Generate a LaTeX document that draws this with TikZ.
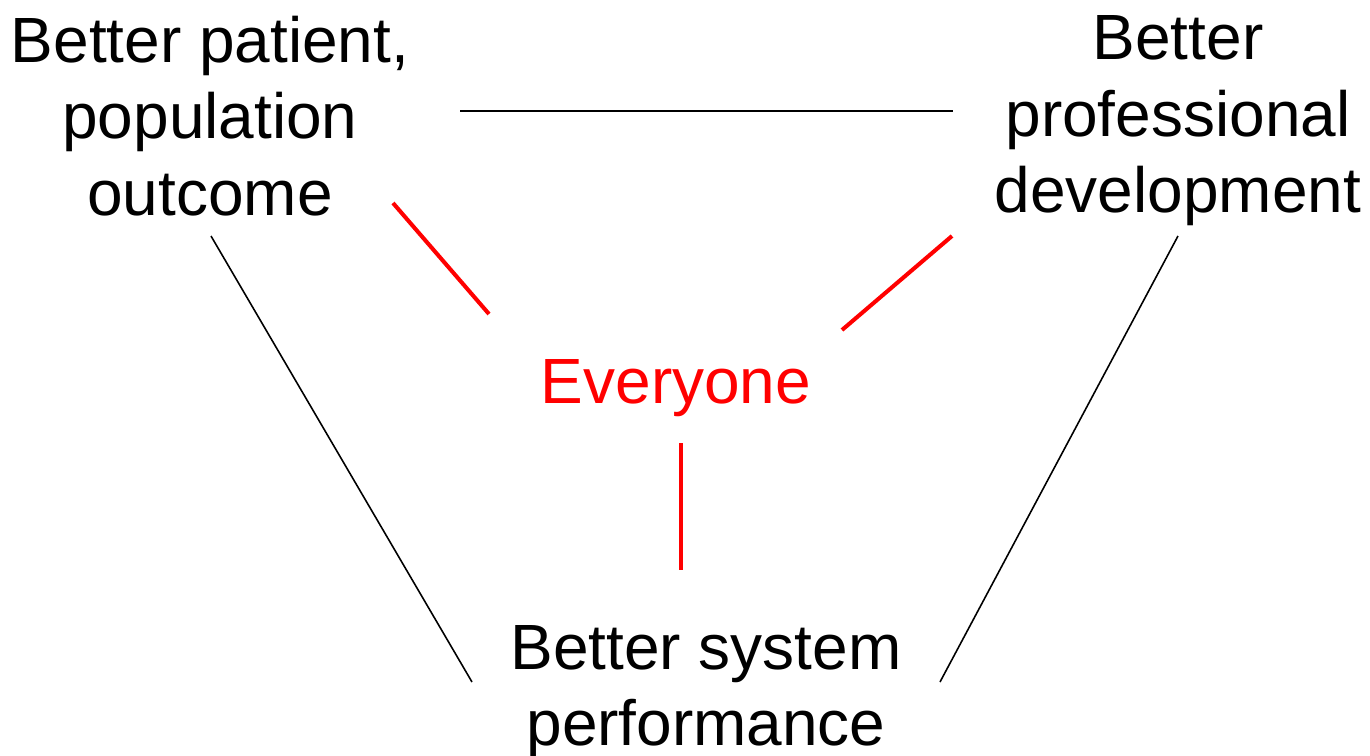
\documentclass[tikz,border=0pt]{standalone}
\usepackage{fontspec}
\setmainfont{Liberation Sans}
\tikzset{
  goal/.style={align=center, inner sep=0pt, font=\fontsize{18.2}{21.8}\selectfont},
  thin link/.style={draw=black, line width=0.45pt},
  red link/.style={draw=red, line width=1.15pt}
}
\begin{document}
\begin{tikzpicture}
    \useasboundingbox (0, 0) rectangle (13.7, 7.55);
    \node[goal] (outcome) at (2.10, 6.39) {Better patient,\\population\\outcome};
    \node[goal] (develop) at (11.78, 6.34) {Better\\professional\\development};
    \node[goal, text=red] (everyone) at (6.76, 3.67) {Everyone};
    \node[goal] (system) at (7.06, 0.63) {Better system\\performance};

    % free ends of the links
    \coordinate (top-l) at (4.60, 6.44);
    \coordinate (top-r) at (9.53, 6.44);
    \coordinate (red-l1) at (3.93, 5.52);
    \coordinate (red-l2) at (4.89, 4.41);
    \coordinate (red-r1) at (9.52, 5.19);
    \coordinate (red-r2) at (8.42, 4.25);
    \coordinate (red-b1) at (6.81, 3.12);
    \coordinate (red-b2) at (6.81, 1.85);
    \coordinate (side-l1) at (2.11, 5.19);
    \coordinate (side-l2) at (4.72, 0.73);
    \coordinate (side-r1) at (11.78, 5.19);
    \coordinate (side-r2) at (9.40, 0.73);

    \draw[thin link] (top-l) -- (top-r);
    \draw[thin link] (side-l1) -- (side-l2);
    \draw[thin link] (side-r1) -- (side-r2);
    \draw[red link] (red-l1) -- (red-l2);
    \draw[red link] (red-r1) -- (red-r2);
    \draw[red link] (red-b1) -- (red-b2);
  \end{tikzpicture}
\end{document}
